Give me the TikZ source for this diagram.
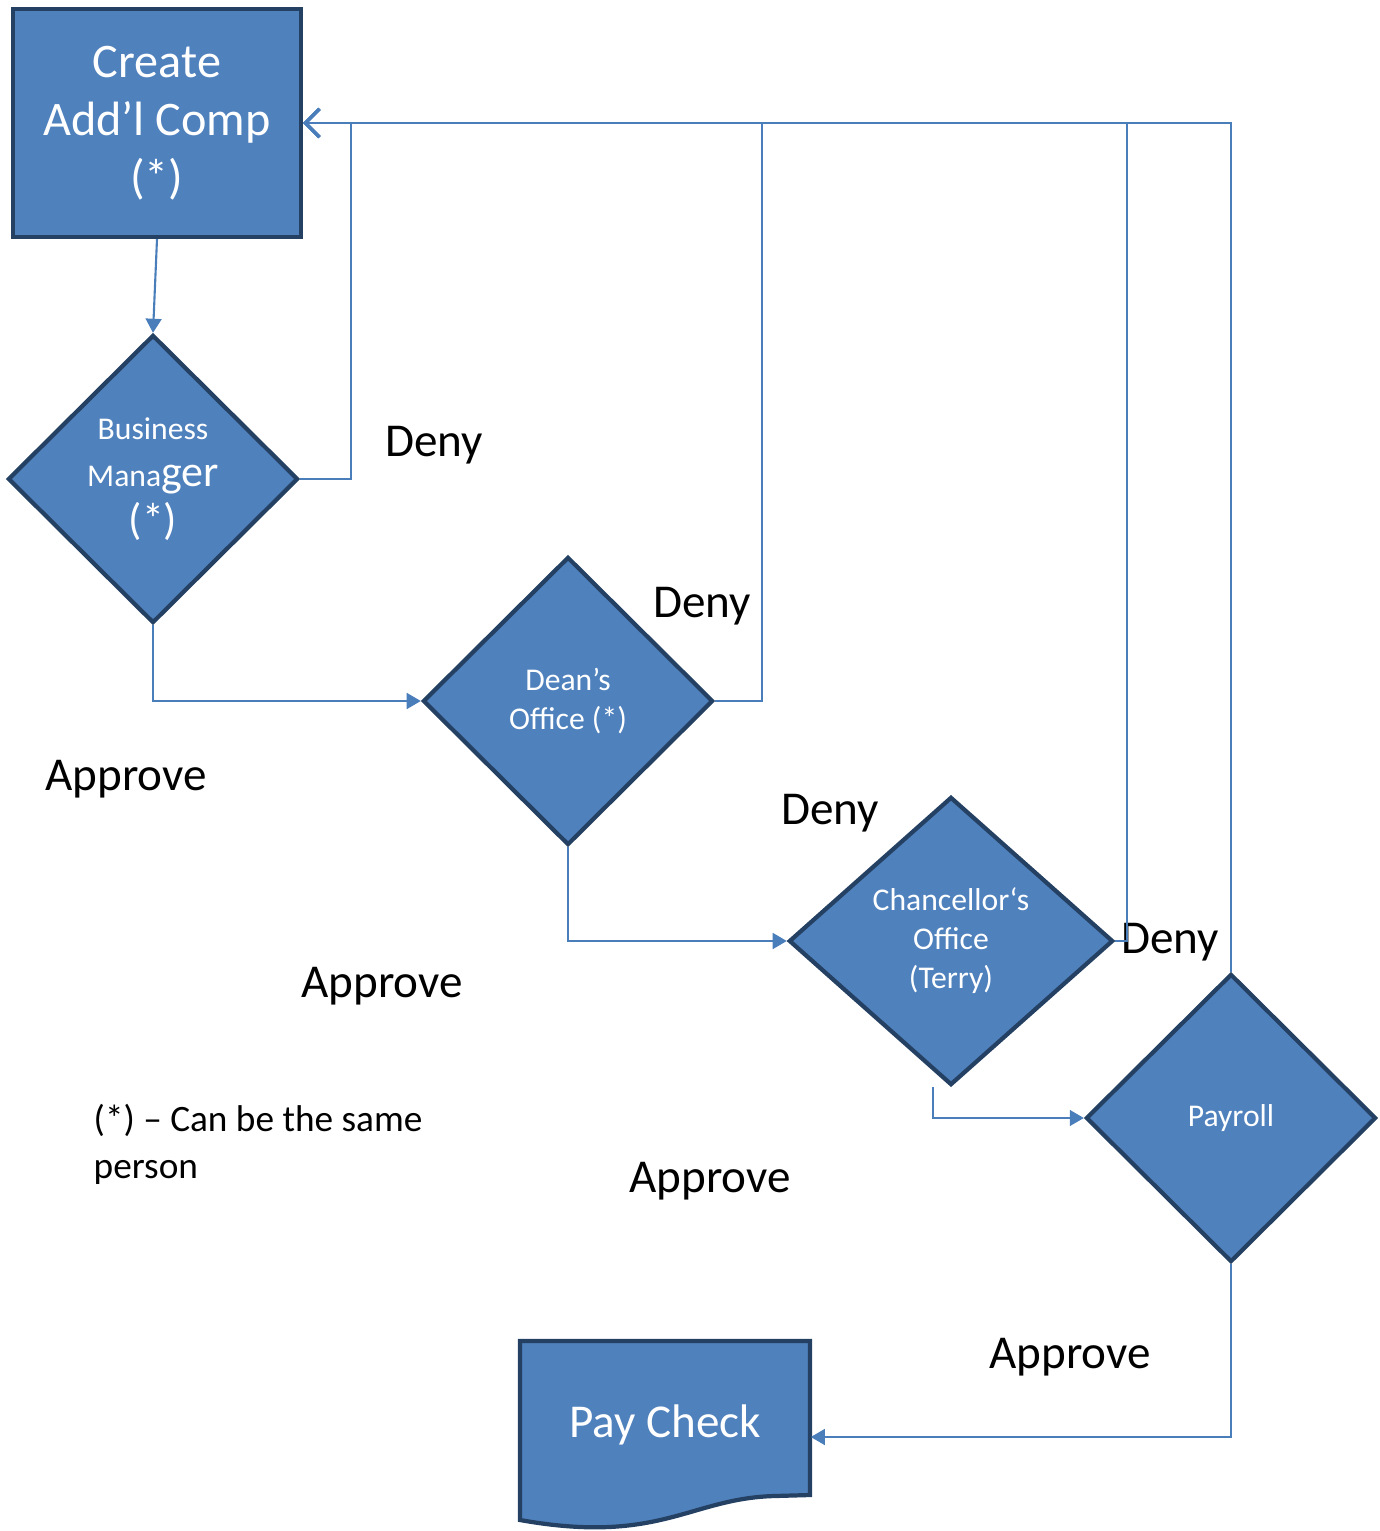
\documentclass[tikz,border=0pt]{standalone}
\usepackage{fontspec}
\setmainfont{Carlito}
\usepackage{xcolor}
\usetikzlibrary{shapes.geometric, arrows.meta, positioning}
\definecolor{flowFill}{RGB}{79, 129, 189}
\definecolor{flowBorder}{RGB}{36, 64, 98}
\definecolor{flowLine}{RGB}{74, 126, 187}

\begin{document}
\begin{tikzpicture}[x=0.01cm, y=-0.01cm,
    box/.style={draw=flowBorder, fill=flowFill, line width=1.2pt, text=white, align=center, inner sep=0pt},
    decision/.style={diamond, draw=flowBorder, fill=flowFill, line width=1.2pt, text=white, align=center, inner sep=0pt, minimum width=2.9cm, minimum height=2.88cm, font=\fontsize{9}{11.1}\selectfont},
    lbl/.style={font=\fontsize{13.4}{16}\selectfont, inner sep=0pt},
    link/.style={draw=flowLine, line width=0.6pt, -{Triangle[length=4pt, width=4.5pt]}},
    back/.style={draw=flowLine, line width=0.6pt, -{Straight Barb[length=4pt, width=8pt, line width=0.9pt]}}]
    \useasboundingbox (0,0) rectangle (1379,1531);

    % Start
    \node[box, minimum width=2.88cm, minimum height=2.28cm, font=\fontsize{13.7}{16.5}\selectfont] at (157,123) (create) {Create\\Add'l Comp\\(*)};

    % Approvals
    \node[decision, font=\fontsize{9}{13.5}\selectfont] at (153,479) (bm) {Business\\Mana{\fontsize{12.5}{13}\selectfont ger}\\{\fontsize{12.5}{13}\selectfont (*)}};
    \node[decision] at (568,701) (dean) {Dean's\\Office (*)};
    \node[decision, minimum width=3.24cm] at (951,941) (chan) {Chancellor`s\\Office\\(Terry)};
    \node[decision] at (1231,1118) (payroll) {Payroll};

    % End
    \path[draw=flowBorder, fill=flowFill, line width=1.2pt] (520,1341) -- (810,1341) -- (810,1495) -- (775,1496)
        .. controls (690,1498) and (660,1545) .. (520,1520) -- cycle;
    \node[minimum width=2.9cm, minimum height=1.5cm, text=white, font=\fontsize{13.4}{16}\selectfont] at (665,1425) (paycheck) {Pay Check};

    % Labels
    \node[lbl] at (434,445) (deny1) {Deny};
    \node[lbl] at (702,606) (deny2) {Deny};
    \node[lbl] at (830,813) (deny3) {Deny};
    \node[lbl] at (1170,942) (deny4) {Deny};
    \node[lbl] at (126,779) (ok1) {Approve};
    \node[lbl] at (382,986) (ok2) {Approve};
    \node[lbl] at (710,1181) (ok3) {Approve};
    \node[lbl] at (1070,1357) (ok4) {Approve};
    \node[inner sep=0pt, anchor=west, align=left, font=\fontsize{10.6}{13.4}\selectfont] at (93,1144) (note) {(*) -- Can be the same\\person};

    % Arrows
    \draw[link] (create.south) -- (bm.north);
    \draw[link] (bm.south) |- (dean.west);
    \draw[link] (dean.south) |- (chan.west);
    \coordinate (chanout) at ([xshift=-0.18cm]chan.south);
    \draw[link] (chanout) |- (payroll.west);
    \draw[link] (payroll.south) |- ([yshift=-0.12cm]paycheck.east);
    \draw[back] (bm.east) -- ++(51,0) |- (create.east);
    \draw[back] (dean.east) -- ++(47,0) |- (create.east);
    \draw[back] (chan.east) -- ++(12,0) |- (create.east);
    \draw[back] (payroll.north) |- (create.east);
\end{tikzpicture}
\end{document}
